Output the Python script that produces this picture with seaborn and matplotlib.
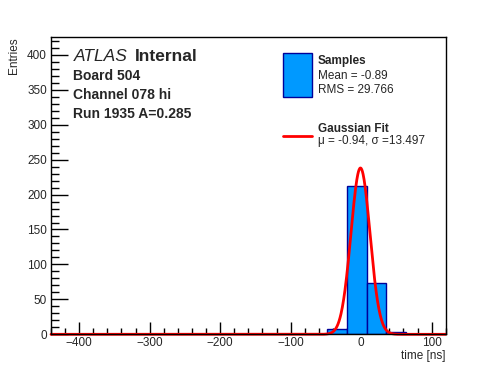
import numpy as np
import pandas as pd
import matplotlib
matplotlib.use("Agg")
import matplotlib.pyplot as plt
from matplotlib.ticker import MultipleLocator
from matplotlib.patches import Rectangle
from matplotlib.lines import Line2D
import seaborn as sns

# histogram: 20 bins of 28 ns from -440 to 120
bin_lo = -440
bin_hi = 120
counts = [0, 0, 0, 0, 0, 0, 0, 0, 0, 0, 0, 0, 0, 0, 7, 212, 73, 4, 0, 0]

# gaussian fit parameters
fit_mu = -0.94
fit_sigma = 13.497
fit_amp = 238

labels = ["ATLAS", "Internal", "Board 504", "Channel 078 hi", "Run 1935 A=0.285"]
stats = ["Mean = -0.89", "RMS = 29.766"]
fit_text = "\u03bc = -0.94, \u03c3 =13.497"

sns.set_style("white")
plt.rcParams['font.family'] = ['Liberation Sans', 'DejaVu Sans']

edges = list(np.linspace(bin_lo, bin_hi, len(counts) + 1))
centers = [(a + b) / 2 for a, b in zip(edges[:-1], edges[1:])]
df = pd.DataFrame({'time': centers, 'n': counts})

fig = plt.figure(figsize=(4.96, 3.72), dpi=100)
ax = fig.add_axes([0.1028, 0.1013, 0.7958, 0.7984])

sns.histplot(data=df, x='time', weights='n', bins=edges, ax=ax,
             color='#0099ff', edgecolor='#000099', linewidth=1.0, alpha=1.0)

xs = np.linspace(bin_lo, bin_hi, 1200)
gauss = pd.DataFrame({'x': xs, 'y': fit_amp * np.exp(-0.5 * ((xs - fit_mu) / fit_sigma) ** 2)})
sns.lineplot(data=gauss, x='x', y='y', ax=ax, color='#ff0000', linewidth=2, clip_on=False)

ax.set_xlim(bin_lo, bin_hi)
ax.set_ylim(0, 425)
ax.set_xlabel("")
ax.set_ylabel("")
for s in ax.spines.values():
    s.set_color('black')
    s.set_linewidth(1)

ax.xaxis.set_major_locator(MultipleLocator(100))
ax.xaxis.set_minor_locator(MultipleLocator(20))
ax.yaxis.set_major_locator(MultipleLocator(50))
ax.yaxis.set_minor_locator(MultipleLocator(10))
ax.tick_params(which='both', bottom=True, left=True, top=False, right=False, color='black')
ax.tick_params(axis='x', which='major', direction='in', length=8.5, width=1, labelsize=8.5, pad=2)
ax.tick_params(axis='x', which='minor', direction='in', length=4, width=1)
ax.tick_params(axis='y', which='major', direction='in', length=12, width=1, labelsize=8.5, pad=3)
ax.tick_params(axis='y', which='minor', direction='in', length=6, width=1)

fig.text(0.8986, 0.027, "time [ns]", ha='right', va='bottom', fontsize=8.5)
fig.text(0.016, 0.8997, "Entries", ha='left', va='top', rotation=90, fontsize=8.5)

# ATLAS label block
ax.text(0.057, 0.934, labels[0], transform=ax.transAxes, fontsize=12.5, style='italic', va='center')
ax.text(0.213, 0.934, labels[1], transform=ax.transAxes, fontsize=12.5, weight='bold', va='center')
for i, t in enumerate(labels[2:]):
    ax.text(0.057, 0.870 - i * 0.064, t, transform=ax.transAxes, fontsize=10, weight='bold', va='center')

# legend-like box
ax.add_patch(Rectangle((0.588, 0.799), 0.073, 0.148, transform=ax.transAxes,
                       facecolor='#0099ff', edgecolor='#000099', linewidth=1))
ax.text(0.676, 0.921, "Samples", transform=ax.transAxes, fontsize=8.5, weight='bold', va='center')
ax.text(0.676, 0.870, stats[0], transform=ax.transAxes, fontsize=8.5, va='center')
ax.text(0.676, 0.823, stats[1], transform=ax.transAxes, fontsize=8.5, va='center')
ax.add_line(Line2D([0.588, 0.661], [0.668, 0.668], transform=ax.transAxes, color='#ff0000', linewidth=2))
ax.text(0.676, 0.691, "Gaussian Fit", transform=ax.transAxes, fontsize=8.5, weight='bold', va='center')
ax.text(0.676, 0.651, fit_text, transform=ax.transAxes, fontsize=8.5, va='center')

fig.savefig("out.png", dpi=100)
